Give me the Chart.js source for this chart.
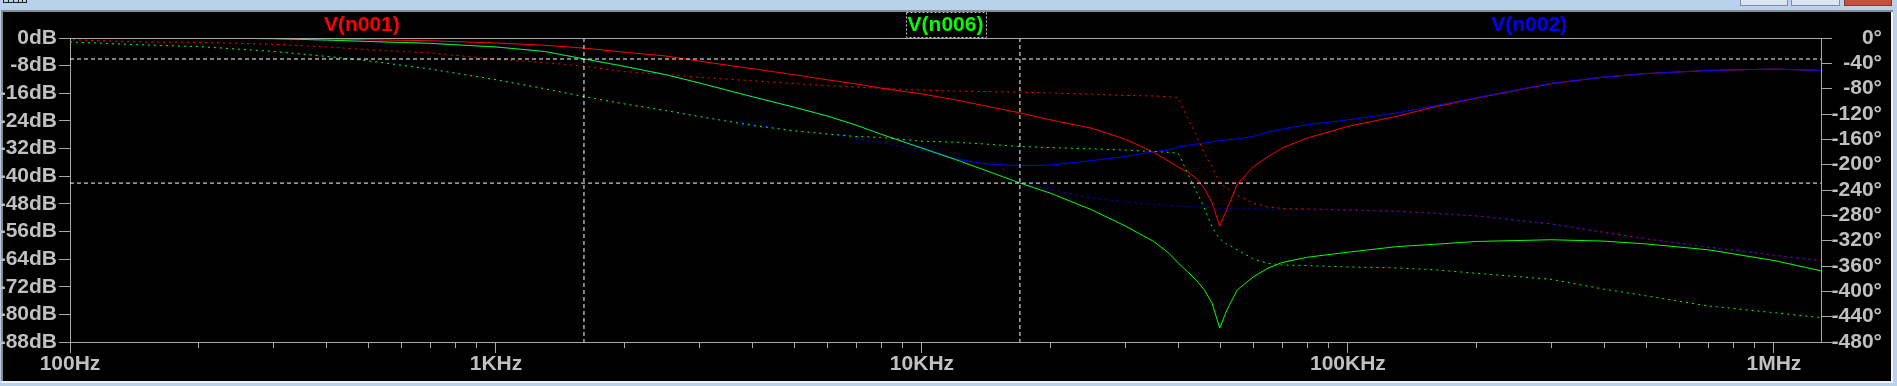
<!DOCTYPE html>
<html>
<head>
<meta charset="utf-8">
<title>Bode</title>
<script src="https://cdn.jsdelivr.net/npm/chart.js@4.4.0/dist/chart.umd.min.js"></script>
<style>
  html, body { margin: 0; padding: 0; background: #b9d1ea; overflow: hidden; }
  canvas { display: block; }
</style>
</head>
<body>
<canvas id="bode" width="1897" height="386"></canvas>
<script>
// frequency points (Hz)
const freqs = [100, 150, 200, 300, 400, 500, 700,
  1000, 1300, 1600, 2000, 2500, 3000, 4000, 5000, 6000, 7000, 8000,
  10000, 12000, 14000, 17000, 20000, 25000, 30000, 35000, 38000, 40000, 42000, 44000, 46000, 48000,
  50000, 52000, 55000, 60000, 65000, 70000, 80000,
  100000, 130000, 160000, 200000, 300000, 400000, 500000, 700000, 1000000, 1290000];

// magnitude (dB), left axis
const magN001 = [0, 0, 0, -0.15, -0.3, -0.5, -0.8,
  -1.45, -2.1, -2.9, -4.1, -5.2, -6.7, -8.9, -10.6, -12.1, -13.3, -14.5,
  -16.2, -17.9, -19.6, -21.7, -23.7, -26.1, -29.3, -33.1, -35.7, -37.4, -38.7, -40.6, -43.5, -47.7,
  -54.5, -49.5, -42.3, -37.2, -34.3, -31.9, -29.0,
  -25.6, -22.7, -19.9, -17.4, -13.2, -11.3, -10.3, -9.4, -9.0, -9.4];
const magN006 = [0, 0, 0, -0.2, -0.6, -1.0, -1.55,
  -2.6, -3.9, -6.0, -8.2, -10.6, -13.0, -17.0, -20.0, -22.6, -25.2, -27.8,
  -31.9, -35.2, -38.2, -42.0, -44.9, -49.7, -54.4, -58.9, -62.3, -65.2, -67.6, -70.0, -72.9, -76.8,
  -84.0, -78.7, -72.9, -69.1, -66.6, -65.0, -63.5,
  -62.0, -60.4, -59.7, -58.9, -58.4, -58.8, -59.6, -61.3, -64.4, -67.4];
const magN002 = [0, 0, 0, -0.2, -0.6, -1.0, -1.55,
  -2.6, -3.9, -6.0, -8.2, -10.6, -13.0, -17.0, -20.0, -22.6, -25.2, -27.8,
  -31.7, -35.0, -36.4, -37.0, -36.8, -35.5, -34.3, -32.9, -32.4, -31.5, -31.1, -30.7, -30.4, -30.0,
  -29.7, -29.5, -29.2, -28.5, -27.2, -26.4, -25.1,
  -23.7, -21.7, -19.6, -17.3, -13.1, -11.3, -10.3, -9.4, -9.0, -9.4];

// phase (degrees), right axis
const phaseN001 = [-2.7, -6.3, -6.8, -10.0, -14.0, -18.5, -23.5,
  -33.5, -38.8, -44.5, -53, -57.5, -62, -67.5, -72, -75.3, -77.5, -79.5,
  -82.2, -83.8, -84.5, -85.3, -86.9, -88.5, -90.7, -91.5, -92.8, -94.8, -126, -152, -182, -203,
  -229, -237, -248, -261, -267, -269, -270,
  -271.4, -273.5, -276.6, -281, -293.5, -307, -317, -330, -343, -351.5];
const phaseN006 = [-6.3, -11, -13.5, -21.2, -29, -35.9, -49,
  -65.9, -80, -92.3, -104, -114.5, -124, -138, -146.5, -151.5, -155.5, -157,
  -163, -164.5, -167.3, -171.3, -173, -175, -177, -179.2, -180.5, -182, -213, -241, -268, -299,
  -317, -325.6, -334.6, -348.8, -356, -358.3, -359.4,
  -361.5, -363, -366, -371.5, -381, -396.7, -407, -423, -433.7, -441.6];
const phaseN002 = [-6.3, -11, -13.5, -21.2, -29, -35.9, -49,
  -65.9, -80, -92.3, -104, -114.5, -124, -136, -146.5, -152, -158.5, -165,
  -177.6, -191, -208, -229, -239, -252.9, -258.7, -262.4, -264.5, -265.5, -266, -266.5, -267, -268,
  -269.3, -269.5, -269.8, -270, -270.3, -270.6, -271,
  -271.5, -274, -277, -281, -293.5, -307, -317, -330, -343, -351.5];

// cursors
const cursorFreqs = [1609, 16982];
const cursorLevels = [-6.08, -42.0];

// axis ticks
const xTickValues = [100, 1000, 10000, 100000, 1000000];
const xTickLabels = ['100Hz', '1KHz', '10KHz', '100KHz', '1MHz'];
const traceNames = ['V(n001)', 'V(n006)', 'V(n002)'];
const traceColors = ['#ff0000', '#00ff00', '#0000ff'];

const fMin = 100, fMax = 1290000;
const axisGrey = '#a8a8a8';
const textGrey = '#c0c0c0';

// pick a narrow bold face if there is one (LTspice labels are tall and narrow)
function hasFont(name) {
  const c = document.createElement('canvas').getContext('2d');
  const s = 'V(n001) -480° 100KHz';
  c.font = 'bold 30px monospace';
  const a = c.measureText(s).width;
  c.font = 'bold 30px "' + name + '", monospace';
  return c.measureText(s).width !== a;
}
const narrow = hasFont('Liberation Sans Narrow');
const lblFont = narrow
  ? { family: "'Liberation Sans Narrow', sans-serif", size: 23, weight: 'bold', lineHeight: 1 }
  : { family: "'Liberation Sans', Arial, sans-serif", size: 21, weight: 'bold', lineHeight: 1 };

const pts = (ys) => freqs.map((f, i) => ({ x: f, y: ys[i] }));
const dots = [2, 4];

const datasets = [
  { label: traceNames[0], data: pts(magN001), borderColor: traceColors[0], yAxisID: 'y', order: 5 },
  { label: traceNames[0] + ' phase', data: pts(phaseN001), borderColor: traceColors[0], yAxisID: 'y2', borderDash: dots, borderDashOffset: 3, order: 6 },
  { label: traceNames[1], data: pts(magN006), borderColor: traceColors[1], yAxisID: 'y', order: 1 },
  { label: traceNames[1] + ' phase', data: pts(phaseN006), borderColor: traceColors[1], yAxisID: 'y2', borderDash: dots, order: 2 },
  { label: traceNames[2], data: pts(magN002), borderColor: traceColors[2], yAxisID: 'y', order: 3 },
  { label: traceNames[2] + ' phase', data: pts(phaseN002), borderColor: traceColors[2], yAxisID: 'y2', borderDash: dots, order: 4 }
];
cursorFreqs.forEach((f) => {
  datasets.push({ label: 'cursor', data: [{ x: f, y: 0 }, { x: f, y: -88 }], borderColor: '#ffffff', yAxisID: 'y', borderDash: [4, 3], order: 0 });
});
cursorLevels.forEach((v) => {
  datasets.push({ label: 'cursor', data: [{ x: fMin, y: v }, { x: fMax, y: v }], borderColor: '#ffffff', yAxisID: 'y', borderDash: [4, 3], order: 0 });
});
datasets.forEach((d) => { d.borderWidth = 1; d.pointRadius = 0; d.tension = 0; d.fill = false; });

// window frame + black plot pane
const chrome = {
  id: 'chrome',
  beforeDraw(chart) {
    const ctx = chart.ctx;
    ctx.save();
    ctx.fillStyle = '#b9d1ea';
    ctx.fillRect(0, 0, 1897, 386);
    ctx.fillStyle = '#8a8a8a';
    ctx.fillRect(1, 10, 1892, 373);
    ctx.fillStyle = '#f2f2f2';
    ctx.fillRect(1891, 12, 2, 371);
    ctx.fillRect(1, 381, 1892, 2);
    ctx.fillStyle = '#000000';
    ctx.fillRect(3, 12, 1888, 369);
    // caption buttons (bottom parts)
    ctx.fillStyle = '#dbe5f1';
    ctx.strokeStyle = '#7d8ea5';
    ctx.fillRect(1740, -2, 48, 8); ctx.strokeRect(1740.5, -2, 47, 7.5);
    ctx.fillRect(1791, -2, 49, 8); ctx.strokeRect(1791.5, -2, 48, 7.5);
    ctx.fillStyle = '#c8503f';
    ctx.strokeStyle = '#8c3a30';
    ctx.fillRect(1844, -2, 48, 8); ctx.strokeRect(1844.5, -2, 47, 7.5);
    // tiny ruler icon
    ctx.strokeStyle = '#202020';
    ctx.beginPath();
    ctx.moveTo(3, 2.5); ctx.lineTo(27, 2.5);
    [3.5, 8.5, 13.5, 18.5, 22.5, 26.5].forEach((x) => { ctx.moveTo(x, 0); ctx.lineTo(x, 3); });
    ctx.stroke();
    ctx.restore();
  }
};

const extras = {
  id: 'extras',
  afterDraw(chart) {
    const ctx = chart.ctx;
    const a = chart.chartArea;
    const xs = chart.scales.x;
    ctx.save();
    ctx.strokeStyle = axisGrey;
    ctx.lineWidth = 1;
    ctx.beginPath();
    // top frame line
    ctx.moveTo(a.left, Math.round(a.top) + 0.5);
    ctx.lineTo(a.right + 1, Math.round(a.top) + 0.5);
    // minor log ticks
    for (let d = 100; d < fMax; d *= 10) {
      for (let k = 2; k <= 9; k++) {
        const v = k * d;
        if (v > fMax) break;
        const px = Math.round(xs.getPixelForValue(v)) + 0.5;
        ctx.moveTo(px, a.bottom);
        ctx.lineTo(px, a.bottom + 6);
      }
    }
    ctx.stroke();
    // trace names above the pane
    const w = a.right - a.left;
    ctx.font = lblFont.weight + ' ' + lblFont.size + 'px ' + lblFont.family;
    ctx.textAlign = 'center';
    ctx.textBaseline = 'middle';
    traceNames.forEach((name, i) => {
      const cx = a.left + w * (2 * i + 1) / 6;
      ctx.fillStyle = traceColors[i];
      ctx.fillText(name, cx, 25);
      if (i === 1) {
        const tw = ctx.measureText(name).width;
        ctx.strokeStyle = '#c8c8c8';
        ctx.setLineDash([2, 2]);
        ctx.strokeRect(Math.round(cx - tw / 2 - 2) + 0.5, 12.5, Math.round(tw + 4), 25);
        ctx.setLineDash([]);
      }
    });
    ctx.restore();
  }
};

new Chart(document.getElementById('bode'), {
  type: 'line',
  data: { datasets: datasets },
  options: {
    responsive: false,
    animation: false,
    events: [],
    devicePixelRatio: 1,
    layout: { padding: { top: 38, right: 15, left: 0, bottom: 0 } },
    plugins: { legend: { display: false }, tooltip: { enabled: false } },
    scales: {
      x: {
        type: 'logarithmic',
        position: 'bottom',
        min: fMin,
        max: fMax,
        afterBuildTicks: (s) => { s.ticks = xTickValues.map((v) => ({ value: v, major: true })); },
        afterFit: (s) => { s.height = 44; },
        ticks: {
          autoSkip: false,
          maxRotation: 0,
          padding: 1,
          color: textGrey,
          font: lblFont,
          callback: (v) => xTickLabels[xTickValues.indexOf(v)] || ''
        },
        grid: { drawOnChartArea: false, drawTicks: true, tickLength: 11, color: axisGrey, tickColor: axisGrey },
        border: { display: true, color: axisGrey }
      },
      y: {
        type: 'linear',
        position: 'left',
        min: -88,
        max: 0,
        afterFit: (s) => { s.width = 70; },
        ticks: { stepSize: 8, padding: 2, color: textGrey, font: lblFont, callback: (v) => v + 'dB' },
        grid: { drawOnChartArea: false, drawTicks: true, tickLength: 11, color: axisGrey, tickColor: axisGrey },
        border: { display: true, color: axisGrey }
      },
      y2: {
        type: 'linear',
        position: 'right',
        min: -480,
        max: 0,
        afterFit: (s) => { s.width = 61; },
        ticks: { stepSize: 40, crossAlign: 'far', color: textGrey, font: lblFont, callback: (v) => v + '°' },
        grid: { drawOnChartArea: false, drawTicks: true, tickLength: 11, color: axisGrey, tickColor: axisGrey },
        border: { display: true, color: axisGrey }
      }
    }
  },
  plugins: [chrome, extras]
});
</script>
</body>
</html>
